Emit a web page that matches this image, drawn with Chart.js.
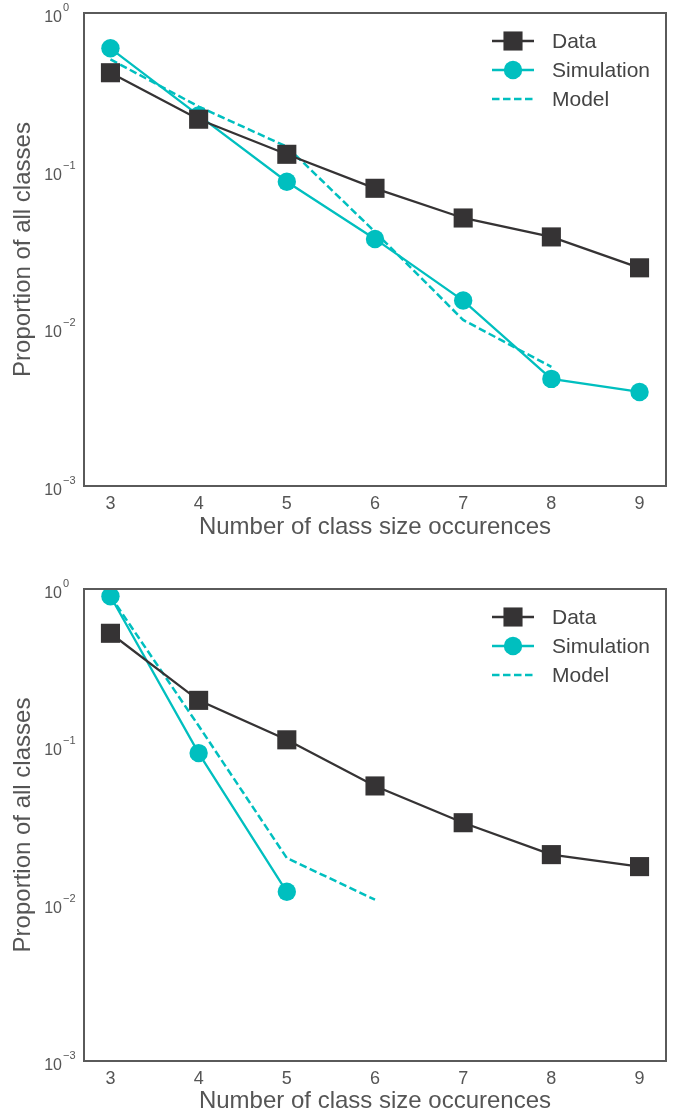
<!DOCTYPE html>
<html>
<head>
<meta charset="utf-8">
<script src="https://cdn.jsdelivr.net/npm/chart.js@4.4.0/dist/chart.umd.min.js"></script>
<style>
  body { margin: 0; background: #fff; }
  .panel { position: relative; width: 676px; }
</style>
</head>
<body>
<div class="panel" style="height:557px"><canvas id="chartTop"></canvas></div>
<div class="panel" style="height:558px"><canvas id="chartBottom"></canvas></div>
<script>
// class sizes on the x axis
var classSizes = [3, 4, 5, 6, 7, 8, 9];
var yTicks = [1, 0.1, 0.01, 0.001];
var yTickExponents = ['0', '\u22121', '\u22122', '\u22123'];
var seriesNames = ['Data', 'Simulation', 'Model'];

// top panel
var topData       = [0.418, 0.212, 0.127, 0.0773, 0.0501, 0.038, 0.0242];
var topSimulation = [0.597, 0.224, 0.0851, 0.0369, 0.0150, 0.00478, 0.00395];
var topModel      = [0.508, 0.255, 0.142, 0.0409, 0.0113, 0.0057, null];

// bottom panel
var bottomData       = [0.523, 0.196, 0.110, 0.056, 0.0327, 0.0205, 0.0172];
var bottomSimulation = [0.90, 0.0906, 0.0119, null, null, null, null];
var bottomModel      = [0.90, 0.135, 0.0195, 0.0106, null, null, null];

var FONT = '"Liberation Sans", Arial, Helvetica, sans-serif';
var dark = '#353334';
var teal = '#00bfbf';

function points(values) {
    var out = [];
    values.forEach(function (v, i) {
        if (v !== null) out.push({ x: classSizes[i], y: v });
    });
    return out;
}

var framePlugin = {
    id: 'frameAndLegend',
    afterDraw: function (chart) {
        var ctx = chart.ctx, area = chart.chartArea;
        ctx.save();
        // box around plot
        ctx.strokeStyle = '#5a5a5a';
        ctx.lineWidth = 2;
        ctx.strokeRect(area.left, area.top, area.right - area.left, area.bottom - area.top);

        // y tick labels 10^n
        var ys = chart.scales.y;
        ctx.fillStyle = '#555';
        yTicks.forEach(function (v, i) {
            var py = ys.getPixelForValue(v);
            ctx.font = '16px ' + FONT;
            ctx.textAlign = 'right';
            ctx.textBaseline = 'alphabetic';
            ctx.fillText('10', area.left - 22, py + 9);
            ctx.font = '11px ' + FONT;
            ctx.textAlign = 'left';
            ctx.fillText(yTickExponents[i], area.left - 21, py - 2);
        });

        // legend
        chart.data.datasets.forEach(function (ds, i) {
            var y = area.top + 28 + i * 29;
            var x0 = area.right - 174, x1 = area.right - 132, xm = area.right - 153;
            ctx.strokeStyle = ds.borderColor;
            ctx.lineWidth = ds.borderWidth;
            ctx.setLineDash(ds.borderDash || []);
            ctx.beginPath();
            ctx.moveTo(x0, y);
            ctx.lineTo(x1, y);
            ctx.stroke();
            ctx.setLineDash([]);
            ctx.fillStyle = ds.backgroundColor;
            if (ds.pointStyle === 'rect' && ds.pointRadius > 0) {
                var h = ds.pointRadius * Math.SQRT1_2;
                ctx.fillRect(xm - h, y - h, 2 * h, 2 * h);
            } else if (ds.pointRadius > 0) {
                ctx.beginPath();
                ctx.arc(xm, y, ds.pointRadius, 0, Math.PI * 2);
                ctx.fill();
            }
            ctx.fillStyle = '#444';
            ctx.font = '21px ' + FONT;
            ctx.textAlign = 'left';
            ctx.textBaseline = 'middle';
            ctx.fillText(seriesNames[i], area.right - 114, y + 1);
        });
        ctx.restore();
    }
};

function makeChart(id, dataVals, simVals, modelVals, layout) {
    var ctx = document.getElementById(id).getContext('2d');
    return new Chart(ctx, {
        type: 'line',
        data: {
            datasets: [{
                label: seriesNames[0],
                data: points(dataVals),
                borderColor: dark,
                backgroundColor: dark,
                borderWidth: 2.3,
                pointStyle: 'rect',
                pointRadius: 13.5,
                pointBorderWidth: 0
            }, {
                label: seriesNames[1],
                data: points(simVals),
                borderColor: teal,
                backgroundColor: teal,
                borderWidth: 2.3,
                pointStyle: 'circle',
                pointRadius: 9.2,
                pointBorderWidth: 0
            }, {
                label: seriesNames[2],
                data: points(modelVals),
                borderColor: teal,
                backgroundColor: teal,
                borderWidth: 2.5,
                borderDash: [7.5, 3.5],
                pointRadius: 0
            }]
        },
        options: {
            responsive: true,
            maintainAspectRatio: false,
            animation: false,
            layout: { autoPadding: false, padding: { top: layout.top, right: 10, left: 0, bottom: 0 } },
            plugins: { legend: { display: false }, tooltip: { enabled: false } },
            scales: {
                x: {
                    type: 'linear',
                    min: 2.7,
                    max: 9.3,
                    grid: { display: false, drawTicks: false },
                    border: { display: false },
                    afterBuildTicks: function (scale) {
                        scale.ticks = classSizes.map(function (v) { return { value: v }; });
                    },
                    afterFit: function (scale) {
                        scale.height = layout.xHeight;
                        scale.paddingLeft = 0;
                        scale.paddingRight = 0;
                    },
                    ticks: { color: '#555', font: { family: FONT, size: 18 }, padding: 7, maxRotation: 0 },
                    title: {
                        display: true,
                        text: 'Number of class size occurences',
                        color: '#555',
                        font: { family: FONT, size: 24 },
                        padding: { top: 0, bottom: layout.titlePad }
                    }
                },
                y: {
                    type: 'logarithmic',
                    min: 0.001,
                    max: 1,
                    grid: { display: false, drawTicks: false },
                    border: { display: false },
                    ticks: { display: false },
                    afterFit: function (scale) {
                        scale.width = 84;
                        scale.paddingTop = 0;
                        scale.paddingBottom = 0;
                    },
                    title: {
                        display: true,
                        text: 'Proportion of all classes',
                        color: '#555',
                        font: { family: FONT, size: 24 },
                        padding: { top: 9, bottom: 0 }
                    }
                }
            }
        },
        plugins: [framePlugin]
    });
}

makeChart('chartTop', topData, topSimulation, topModel, { top: 13, xHeight: 71, titlePad: 15 });
makeChart('chartBottom', bottomData, bottomSimulation, bottomModel, { top: 32, xHeight: 54, titlePad: -1 });
</script>
</body>
</html>
